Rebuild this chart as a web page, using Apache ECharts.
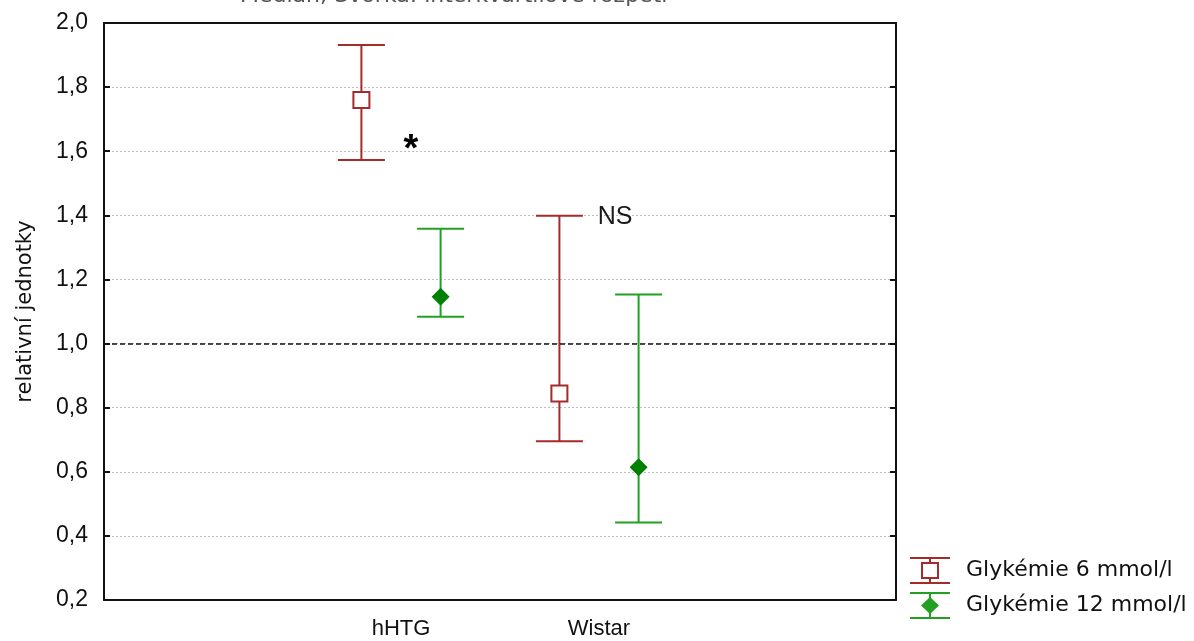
<!DOCTYPE html>
<html>
<head>
<meta charset="utf-8">
<script src="https://cdn.jsdelivr.net/npm/echarts@6/dist/echarts.min.js"></script>
<style>
  html, body { margin: 0; padding: 0; background: #fff; }
  #chart { width: 1194px; height: 641px; }
</style>
</head>
<body>
<div id="chart"></div>
<script>
// kategorie na ose x (krajní prázdné, aby sedělo dělení osy)
const xTickLabels = ['', 'hHTG', 'Wistar', ''];
const groupIndex = [1, 2];

// Glykémie 6 mmol/l
const g6Median = [1.76, 0.844];
const g6Low = [1.573, 0.695];
const g6High = [1.931, 1.399];

// Glykémie 12 mmol/l
const g12Median = [1.146, 0.614];
const g12Low = [1.084, 0.442];
const g12High = [1.358, 1.153];

// poznámky k významnosti
const noteText = ['*', 'NS'];
const noteCat = [1, 2];
const noteValue = [1.602, 1.393];

const RED = '#a52a2a';
const GREEN = '#22a022';
const DARKGREEN = '#008000';
const SANS = 'Liberation Sans, Arial, sans-serif';
const WIDE = 'DejaVu Sans, Verdana, sans-serif';

function errorBar(shift, marker, lineColor, fillColor) {
  return function (params, api) {
    const cat = api.value(0);
    const band = api.size([1, 0])[0];
    const hi = api.coord([cat, api.value(3)]);
    const mid = api.coord([cat, api.value(2)]);
    const lo = api.coord([cat, api.value(1)]);
    const x = mid[0] + shift * band;
    const cap = 23.5;
    const line = { stroke: lineColor, lineWidth: 2 };
    const children = [
      { type: 'line', shape: { x1: x, y1: hi[1], x2: x, y2: lo[1] }, style: line },
      { type: 'line', shape: { x1: x - cap, y1: hi[1], x2: x + cap, y2: hi[1] }, style: line },
      { type: 'line', shape: { x1: x - cap, y1: lo[1], x2: x + cap, y2: lo[1] }, style: line }
    ];
    if (marker === 'square') {
      children.push({
        type: 'rect',
        shape: { x: x - 8, y: mid[1] - 8, width: 16, height: 16 },
        style: { fill: '#fff', stroke: lineColor, lineWidth: 2 }
      });
    } else {
      children.push({
        type: 'polygon',
        shape: { points: [[x, mid[1] - 9], [x + 9, mid[1]], [x, mid[1] + 9], [x - 9, mid[1]]] },
        style: { fill: fillColor }
      });
    }
    return { type: 'group', children: children };
  };
}

const myChart = echarts.init(document.getElementById('chart'));
const option = {
  animation: false,
  textStyle: { fontFamily: SANS },
  title: {
    text: 'Medián; Svorka: interkvartilové rozpětí',
    left: 240,
    top: -15,
    padding: 0,
    textStyle: { fontSize: 22, fontWeight: 'normal', color: '#555', fontFamily: WIDE }
  },
  legend: {
    orient: 'vertical',
    left: 910,
    top: 557,
    padding: 0,
    itemWidth: 40,
    itemHeight: 27,
    itemGap: 8,
    textStyle: { fontSize: 22, color: '#111', fontFamily: WIDE, padding: [0, 0, 0, 11] },
    data: [
      {
        name: 'Glykémie 6 mmol/l',
        icon: 'path://M0,0H40V2H0Z M19,2H21V5H19Z M19,22H21V25H19Z M0,25H40V27H0Z M11,5H29V22H11Z M13,7V20H27V7Z'
      },
      {
        name: 'Glykémie 12 mmol/l',
        icon: 'path://M0,0H40V2H0Z M19,2H21V25H19Z M0,25H40V27H0Z M20,5L29,13.5L20,22L11,13.5Z'
      }
    ]
  },
  grid: { left: 104, top: 23, right: 298, bottom: 41 },
  xAxis: [
    {
      type: 'category',
      data: xTickLabels,
      position: 'bottom',
      axisLine: { lineStyle: { color: '#111', width: 2 } },
      axisTick: { inside: true, alignWithLabel: true, length: 6, lineStyle: { color: '#111', width: 2 } },
      axisLabel: { fontSize: 22, color: '#111', margin: 18 }
    },
    {
      type: 'category',
      data: xTickLabels,
      position: 'top',
      axisLine: { lineStyle: { color: '#111', width: 2 } },
      axisTick: { inside: true, alignWithLabel: true, length: 6, lineStyle: { color: '#111', width: 2 } },
      axisLabel: { show: false }
    }
  ],
  yAxis: [
    {
      type: 'value',
      min: 0.2,
      max: 2.0,
      interval: 0.2,
      name: 'relativní jednotky',
      nameLocation: 'middle',
      nameGap: 68,
      nameTextStyle: { fontSize: 21, color: '#111', fontFamily: WIDE },
      axisLine: { show: true, lineStyle: { color: '#111', width: 2 } },
      axisTick: { show: true, inside: true, length: 6, lineStyle: { color: '#111', width: 2 } },
      axisLabel: {
        fontSize: 23,
        color: '#111',
        margin: 16,
        formatter: v => v.toFixed(1).replace('.', ',')
      },
      splitLine: { lineStyle: { color: '#bdbdbd', type: [2, 2], width: 1 } }
    },
    {
      type: 'value',
      min: 0.2,
      max: 2.0,
      interval: 0.2,
      position: 'right',
      axisLine: { show: true, lineStyle: { color: '#111', width: 2 } },
      axisTick: { show: true, inside: true, length: 6, lineStyle: { color: '#111', width: 2 } },
      axisLabel: { show: false },
      splitLine: { show: false }
    }
  ],
  series: [
    {
      name: 'Glykémie 6 mmol/l',
      type: 'custom',
      itemStyle: { color: RED },
      renderItem: errorBar(-0.2, 'square', RED, '#fff'),
      encode: { x: 0, y: [1, 2, 3] },
      data: groupIndex.map((c, i) => [c, g6Low[i], g6Median[i], g6High[i]]),
      markLine: {
        silent: true,
        symbol: 'none',
        label: { show: false },
        lineStyle: { color: '#111', type: [5, 3], width: 1.5 },
        data: [{ yAxis: 1.0 }]
      },
      z: 3
    },
    {
      name: 'Glykémie 12 mmol/l',
      type: 'custom',
      itemStyle: { color: GREEN },
      renderItem: errorBar(0.2, 'diamond', GREEN, DARKGREEN),
      encode: { x: 0, y: [1, 2, 3] },
      data: groupIndex.map((c, i) => [c, g12Low[i], g12Median[i], g12High[i]]),
      z: 3
    },
    {
      name: 'poznamky',
      type: 'scatter',
      symbolSize: 0,
      silent: true,
      itemStyle: { opacity: 1 },
      data: noteText.map((t, i) => ({ value: [noteCat[i], noteValue[i]], text: t })),
      label: {
        show: true,
        position: 'inside',
        formatter: p => p.data.text,
        color: '#1a1a1a',
        fontSize: 25
      },
      z: 4
    }
  ]
};
// posun poznámek od středu kategorie
option.series[2].data[0].label = { offset: [10, 0], fontSize: 38, fontWeight: 'bold', color: '#000' };
option.series[2].data[1].label = { offset: [16, 0] };
myChart.setOption(option);
</script>
</body>
</html>
